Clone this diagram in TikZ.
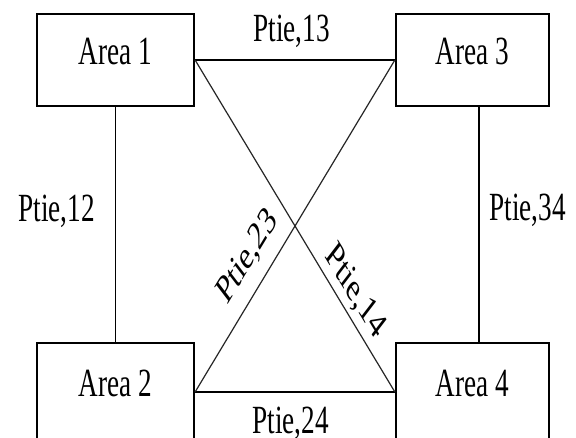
\documentclass[tikz,border=0pt]{standalone}
\usepackage{fontspec}
\setmainfont{Liberation Serif}
\usepackage{graphicx}
\newcommand\squeezetext[1]{\scalebox{0.68}[1]{#1}}
\begin{document}
\begin{tikzpicture}[x=1pt,y=-1pt,
  area/.style={draw=black, line width=2.2pt, rectangle, inner sep=0pt,
    minimum height=92pt, text height=27pt, text depth=17pt,
    font=\fontsize{40}{44}\selectfont},
  tie/.style={draw=black, line width=1.8pt},
  diag/.style={draw=black!85, line width=1.2pt},
  lbl/.style={inner sep=0pt, anchor=base, font=\fontsize{40}{44}\selectfont},
  dlbl/.style={inner sep=0pt, anchor=center, font=\fontsize{40}{44}\selectfont}]
\useasboundingbox (0,0) rectangle (576,438);
\clip (0,0) rectangle (576,438);
\fill[white] (0,0) rectangle (576,438);

\node[area, minimum width=157pt] (a1) at (115.5,60) {\squeezetext{Area 1}};
\node[area, minimum width=153pt] (a3) at (472.5,60) {\squeezetext{Area 3}};
\node[area, minimum width=157pt, minimum height=98pt] (a2) at (115.5,392) {\squeezetext{Area 2}};
\node[area, minimum width=153pt, minimum height=98pt] (a4) at (472.5,392) {\squeezetext{Area 4}};

\draw[tie] (a1.east) -- (a3.west);
\draw[tie] (a2.east) -- (a4.west);
\draw[tie] (a1.south) -- (a2.north);
\draw[tie] ([xshift=6.5pt]a3.south) -- ([xshift=6.5pt]a4.north);
\draw[diag] (a1.east) -- (a4.west);
\draw[diag] (a3.west) -- (a2.east);

\node[lbl] (l13) at (291.5,42) {\squeezetext{Ptie,13}};
\node[lbl] (l24) at (290.5,433) {\squeezetext{Ptie,24}};
\node[lbl] (l12) at (56.5,221.5) {\squeezetext{Ptie,12}};
\node[lbl] (l34) at (527.5,220.5) {\squeezetext{Ptie,34}};
\node[dlbl] (l23) at (247.5,257) {\squeezetext{\rotatebox{48.3}{Ptie,23}}};
\node[dlbl] (l14) at (355,292) {\squeezetext{\rotatebox{-48.3}{Ptie,14}}};
\end{tikzpicture}
\end{document}
